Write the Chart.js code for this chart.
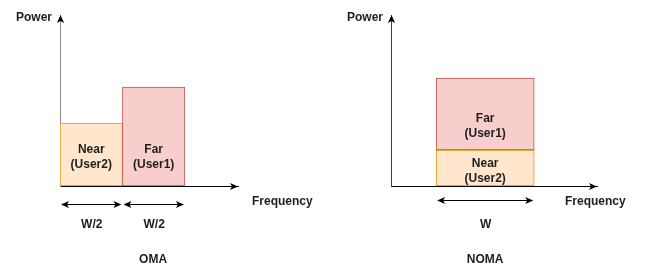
<!DOCTYPE html>
<html><head><meta charset="utf-8">
<script src="https://cdn.jsdelivr.net/npm/chart.js@4.4.1/dist/chart.umd.min.js"></script>
<style>
html,body{margin:0;padding:0;background:#fff;}
#wrap{position:relative;width:647px;height:267px;overflow:hidden;background:#fff}
canvas{position:absolute;top:0}
#c1{left:0}
#c2{left:330px}
</style></head><body>
<div id="wrap"><canvas id="c1" width="330" height="267"></canvas><canvas id="c2" width="317" height="267"></canvas></div>
<script>
// ---- data ----
const axisLabels = ["Power", "Frequency"];
const schemeTitles = ["OMA", "NOMA"];
const userLabels = ["Near (User2)", "Far (User1)"];
// OMA: each user gets half the band (frequency in units of W/2)
const omaFreqCenter = [0.5, 1.5];
const omaPower = [0.63, 0.99];
const omaBandEdges = [[0, 1], [1, 2]];
const omaBandLabels = ["W/2", "W/2"];
// NOMA: both users share the full band W (frequency in units of W)
const nomaFreqCenter = [0.96, 0.96];
const nomaPowerLow = [0, 0.36];
const nomaPowerHigh = [0.36, 1.08];
const nomaBandEdges = [[0.46, 1.46]];
const nomaBandLabels = ["W"];

const fills = ["#ffe6cc", "#f8cecc"];
const borders = ["#d79b00", "#b85450"];
const FONT = 'bold 12px "Liberation Sans", Arial, sans-serif';
const TEXT = '#1e1e1e';
const TY = 1.5; // text baseline nudge

function head(ctx, x, y, dir) {
  const L = 8, H = 3.6, N = 2;
  ctx.save();
  ctx.translate(x, y);
  ctx.rotate(dir);
  ctx.beginPath();
  ctx.moveTo(0, 0);
  ctx.lineTo(-L, -H);
  ctx.lineTo(-L + N, 0);
  ctx.lineTo(-L, H);
  ctx.closePath();
  ctx.fillStyle = '#000';
  ctx.fill();
  ctx.restore();
}

const diagramPlugin = {
  id: 'diagram',
  afterDraw(chart, args, o) {
    const ctx = chart.ctx, a = chart.chartArea, xs = chart.scales.x, ys = chart.scales.y;
    ctx.save();
    // axis arrowheads
    head(ctx, Math.round(a.left) + 0.5, a.top, -Math.PI / 2);
    head(ctx, a.right, Math.round(a.bottom) + 0.5, 0);
    ctx.font = FONT;
    ctx.fillStyle = TEXT;
    ctx.textBaseline = 'middle';
    ctx.textAlign = 'right';
    ctx.fillText(axisLabels[0], a.left - 8, a.top + 1 + TY);
    ctx.textAlign = 'left';
    ctx.fillText(axisLabels[1], a.right + o.freqDx, a.bottom + 14 + TY);
    // bar labels
    ctx.textAlign = 'center';
    o.barLabels.forEach(l => {
      const lines = l.text.split(' ');
      const cx = xs.getPixelForValue(l.x), cy = ys.getPixelForValue(l.y) + TY;
      ctx.fillText(lines[0], cx, cy - 7.5);
      ctx.fillText(lines[1], cx, cy + 7.5);
    });
    // bandwidth arrows
    ctx.strokeStyle = '#000';
    ctx.lineWidth = 1;
    o.bands.forEach((b, i) => {
      const x0 = xs.getPixelForValue(b[0]) + 1, x1 = xs.getPixelForValue(b[1]) - 1;
      const y = Math.round(a.bottom + o.bandDy) + 0.5;
      ctx.beginPath();
      ctx.moveTo(x0 + 4, y);
      ctx.lineTo(x1 - 4, y);
      ctx.stroke();
      head(ctx, x0, y, Math.PI);
      head(ctx, x1, y, 0);
      ctx.fillStyle = TEXT;
      ctx.fillText(o.bandLabels[i], (x0 + x1) / 2 + 0.5, a.bottom + 37 + TY);
    });
    // scheme title
    ctx.fillText(o.title, xs.getPixelForValue(o.titleX), a.bottom + 72 + TY);
    ctx.restore();
  }
};

function baseScales(xmax, yColor) {
  return {
    x: { type: 'linear', min: 0, max: xmax, offset: false,
         grid: { display: false, drawTicks: false },
         ticks: { display: false, stepSize: 1, includeBounds: false },
         border: { display: true, color: '#000', width: 1 } },
    y: { type: 'linear', min: 0, max: 1.71,
         grid: { display: false, drawTicks: false },
         ticks: { display: false },
         border: { display: true, color: yColor, width: 1 } }
  };
}

new Chart(document.getElementById('c1'), {
  type: 'bar',
  data: {
    datasets: [{
      data: userLabels.map((u, i) => ({ x: omaFreqCenter[i], y: [0, omaPower[i]] })),
      backgroundColor: fills, borderColor: borders, borderWidth: 1, borderSkipped: false,
      categoryPercentage: 1, barPercentage: 1, grouped: false
    }]
  },
  options: {
    responsive: false, animation: false, devicePixelRatio: 1,
    layout: { padding: { left: 60, right: 92, top: 15, bottom: 81 } },
    plugins: {
      legend: { display: false }, tooltip: { enabled: false },
      diagram: {
        freqDx: 14, bandDy: 18, title: schemeTitles[0], titleX: 1.49,
        bands: omaBandEdges, bandLabels: omaBandLabels,
        barLabels: userLabels.map((u, i) => ({ text: u, x: omaFreqCenter[i], y: 0.305 }))
      }
    },
    scales: baseScales(2.85, '#8c8c8c')
  },
  plugins: [diagramPlugin]
});

new Chart(document.getElementById('c2'), {
  type: 'bar',
  data: {
    datasets: [{
      data: userLabels.map((u, i) => ({ x: nomaFreqCenter[i], y: [nomaPowerLow[i], nomaPowerHigh[i]] })),
      backgroundColor: fills, borderColor: borders, borderWidth: 1, borderSkipped: false,
      categoryPercentage: 1, barPercentage: 1, grouped: false
    }]
  },
  options: {
    responsive: false, animation: false, devicePixelRatio: 1,
    layout: { padding: { left: 61, right: 50, top: 15, bottom: 81 } },
    plugins: {
      legend: { display: false }, tooltip: { enabled: false },
      diagram: {
        freqDx: -32, bandDy: 14, title: schemeTitles[1], titleX: 0.96,
        bands: nomaBandEdges, bandLabels: nomaBandLabels,
        barLabels: [
          { text: userLabels[0], x: nomaFreqCenter[0], y: 0.165 },
          { text: userLabels[1], x: nomaFreqCenter[1], y: 0.615 }
        ]
      }
    },
    scales: baseScales(2.10, '#404040')
  },
  plugins: [diagramPlugin]
});
</script>
</body></html>
